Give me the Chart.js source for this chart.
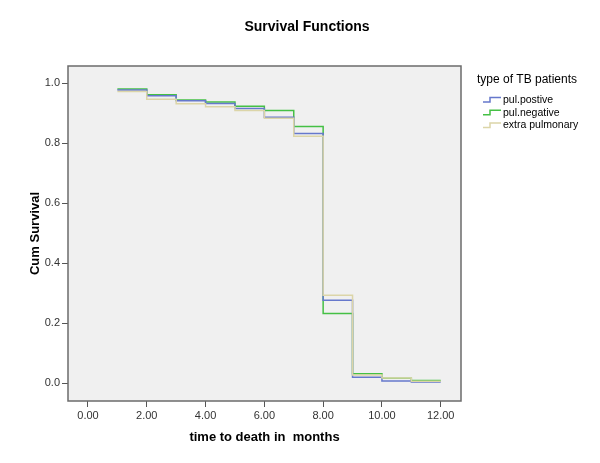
<!DOCTYPE html>
<html>
<head>
<meta charset="utf-8">
<script src="https://cdn.jsdelivr.net/npm/chart.js@4.4.0/dist/chart.umd.min.js"></script>
<style>
  html, body { margin: 0; padding: 0; background: #fff; }
  #wrap { width: 600px; height: 463px; position: relative; }
</style>
</head>
<body>
<div id="wrap"><canvas id="survChart" width="600" height="463"></canvas></div>
<script>
// time points (months) - last point just closes the final step
const times = [1, 2, 3, 4, 5, 6, 7, 8, 9, 10, 11, 12];
// cumulative survival per group
const pulPositive = [0.977, 0.958, 0.941, 0.932, 0.915, 0.886, 0.832, 0.276, 0.019, 0.007, 0.003, 0.003];
const pulNegative = [0.980, 0.961, 0.944, 0.937, 0.923, 0.909, 0.855, 0.232, 0.031, 0.016, 0.008, 0.008];
const extraPulmonary = [0.972, 0.946, 0.931, 0.921, 0.909, 0.883, 0.823, 0.293, 0.027, 0.017, 0.006, 0.006];

const xTicks = [0, 2, 4, 6, 8, 10, 12];
const yTicks = [0, 0.2, 0.4, 0.6, 0.8, 1.0];
const groupNames = ['pul.postive', 'pul.negative', 'extra pulmonary'];
const groupColors = ['#6678cc', '#45c045', '#dcd5a8'];

const FONT = '"Liberation Sans", Arial, sans-serif';

function toPoints(vals) {
    return times.map((t, i) => ({ x: t, y: vals[i] }));
}

// --- 배경, 테두리, 제목, 범례 --- //
const spssLook = {
    id: 'spssLook',
    beforeDraw(chart) {
        const { ctx, chartArea: a } = chart;
        ctx.save();
        ctx.fillStyle = '#f0f0f0';
        ctx.fillRect(a.left, a.top, a.right - a.left, a.bottom - a.top);
        ctx.restore();
    },
    afterDraw(chart) {
        const { ctx, chartArea: a } = chart;
        ctx.save();
        ctx.strokeStyle = '#6b6b6b';
        ctx.lineWidth = 1.5;
        ctx.strokeRect(a.left, a.top, a.right - a.left, a.bottom - a.top);

        ctx.fillStyle = '#000';
        ctx.textAlign = 'center';
        ctx.textBaseline = 'middle';
        ctx.font = 'bold 14px ' + FONT;
        ctx.fillText('Survival Functions', 307, 27);

        ctx.font = 'bold 13px ' + FONT;
        ctx.fillText('time to death in  months', (a.left + a.right) / 2, 437);

        ctx.save();
        ctx.translate(35, (a.top + a.bottom) / 2);
        ctx.rotate(-Math.PI / 2);
        ctx.fillText('Cum Survival', 0, 0);
        ctx.restore();

        // legend
        ctx.textAlign = 'left';
        ctx.font = '12px ' + FONT;
        ctx.fillText('type of TB patients', 477, 80);
        ctx.font = '10.5px ' + FONT;
        groupNames.forEach((name, i) => {
            const cy = 100 + i * 12.7;
            ctx.strokeStyle = groupColors[i];
            ctx.lineWidth = 1.5;
            ctx.beginPath();
            ctx.moveTo(483, cy + 2);
            ctx.lineTo(490, cy + 2);
            ctx.lineTo(490, cy - 2.5);
            ctx.lineTo(501, cy - 2.5);
            ctx.stroke();
            ctx.fillStyle = '#000';
            ctx.fillText(name, 503, cy);
        });
        ctx.restore();
    }
};

const ctx = document.getElementById('survChart').getContext('2d');
new Chart(ctx, {
    type: 'line',
    data: {
        datasets: [
            { label: groupNames[2], data: toPoints(extraPulmonary), borderColor: groupColors[2] },
            { label: groupNames[0], data: toPoints(pulPositive), borderColor: groupColors[0] },
            { label: groupNames[1], data: toPoints(pulNegative), borderColor: groupColors[1] }
        ].map(d => Object.assign(d, {
            stepped: 'before',
            borderWidth: 1.5,
            pointRadius: 0,
            fill: false,
            tension: 0
        }))
    },
    options: {
        responsive: false,
        animation: false,
        devicePixelRatio: 1,
        layout: { padding: { left: 0, top: 66, right: 139, bottom: 0 } },
        plugins: { legend: { display: false }, title: { display: false }, tooltip: { enabled: false } },
        scales: {
            x: {
                type: 'linear',
                min: -0.68,
                max: 12.69,
                afterBuildTicks: s => { s.ticks = xTicks.map(v => ({ value: v })); },
                afterFit: s => { s.height = 62; },
                grid: { drawOnChartArea: false, drawTicks: true, tickLength: 6, color: '#555', lineWidth: 1 },
                border: { display: false },
                ticks: {
                    color: '#333',
                    font: { family: FONT, size: 11 },
                    padding: 2,
                    maxRotation: 0,
                    callback: v => v.toFixed(2)
                }
            },
            y: {
                type: 'linear',
                min: -0.06,
                max: 1.057,
                afterBuildTicks: s => { s.ticks = yTicks.map(v => ({ value: v })); },
                afterFit: s => { s.width = 68; },
                grid: { drawOnChartArea: false, drawTicks: true, tickLength: 6, color: '#555', lineWidth: 1 },
                border: { display: false },
                ticks: {
                    color: '#333',
                    font: { family: FONT, size: 11 },
                    padding: 2,
                    callback: v => v.toFixed(1)
                }
            }
        }
    },
    plugins: [spssLook]
});
</script>
</body>
</html>
